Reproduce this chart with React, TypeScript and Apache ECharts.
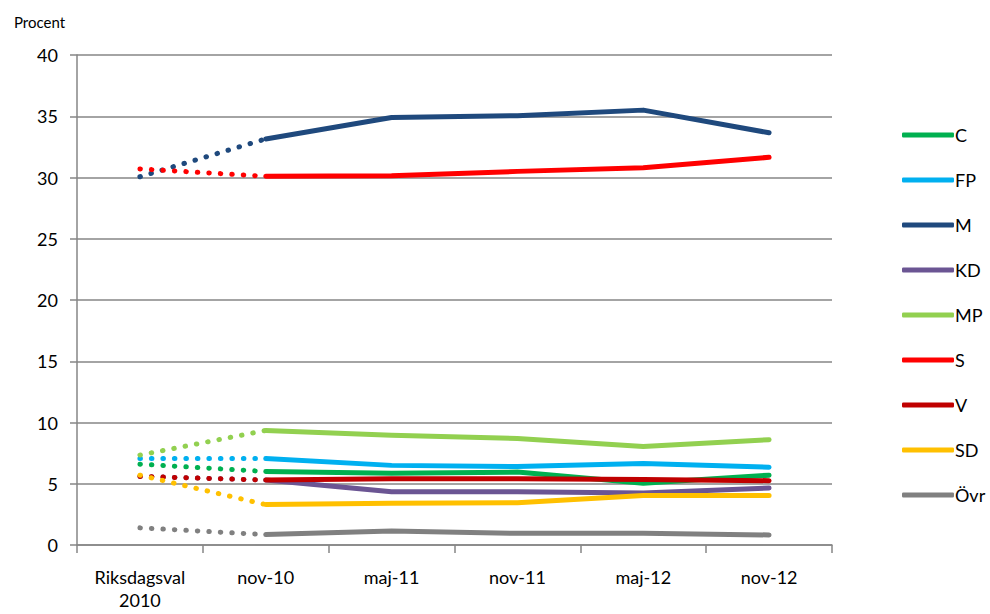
import React, { useEffect, useRef } from "react";
import * as echarts from "echarts";

const categories = ["Riksdagsval\n2010", "nov-10", "maj-11", "nov-11", "maj-12", "nov-12"];
const parties = ["C", "FP", "M", "KD", "MP", "S", "V", "SD", "Övr"];
const colors = ["#00B050", "#00B0F0", "#1F497D", "#6B5593", "#92D050", "#FF0000", "#C00000", "#FFC000", "#808080"];

const C = [6.6, 6.0, 5.85, 5.95, 5.05, 5.7];
const FP = [7.06, 7.06, 6.5, 6.4, 6.65, 6.35];
const M = [30.06, 33.15, 34.9, 35.05, 35.5, 33.65];
const KD = [5.6, 5.3, 4.35, 4.35, 4.25, 4.65];
const MP = [7.34, 9.35, 8.95, 8.7, 8.05, 8.6];
const S = [30.7, 30.1, 30.15, 30.5, 30.8, 31.65];
const V = [5.6, 5.3, 5.4, 5.4, 5.35, 5.25];
const SD = [5.7, 3.3, 3.4, 3.45, 4.05, 4.05];
const Ovr = [1.4, 0.85, 1.15, 0.95, 0.95, 0.82];

const values = [C, FP, M, KD, MP, S, V, SD, Ovr];
const yTicks = { min: 0, max: 40, interval: 5 };
const yTitle = "Procent";

const FONT = "Lato, 'Open Sans', sans-serif";

export default function App() {
  const ref = useRef<HTMLDivElement>(null);
  useEffect(() => {
    const chart = echarts.init(ref.current!, null, { renderer: "svg" });
    const dotted = parties.map((p, i) => ({
      name: p + "_val",
      type: "line",
      symbol: "none",
      silent: true,
      data: values[i].map((v, j) => (j <= 1 ? v : null)),
      lineStyle: { color: colors[i], width: 5, type: [0.5, 11], cap: "round" },
      itemStyle: { color: colors[i] },
    }));
    const solid = parties.map((p, i) => ({
      name: p,
      type: "line",
      symbol: "none",
      data: values[i].map((v, j) => (j >= 1 ? v : null)),
      lineStyle: { color: colors[i], width: 5, cap: "round", join: "round" },
      itemStyle: { color: colors[i] },
    }));
    chart.setOption({
      animation: false,
      grid: { left: 77, right: 158, top: 55, bottom: 69, containLabel: false, outerBoundsMode: "none" },
      title: {
        text: yTitle,
        left: 9,
        top: 9,
        textStyle: { fontFamily: FONT, fontSize: 15, fontWeight: "normal", color: "#000" },
      },
      legend: {
        orient: "vertical",
        left: 897,
        top: 119,
        icon: "roundRect",
        itemWidth: 52,
        itemHeight: 5,
        itemGap: 23,
        data: parties,
        textStyle: { fontFamily: FONT, fontSize: 18, color: "#000", padding: [0, 0, 0, -4], lineHeight: 22, height: 22 },
      },
      xAxis: {
        type: "category",
        data: categories,
        boundaryGap: true,
        axisLine: { lineStyle: { color: "#868686", width: 1.5 } },
        axisTick: { show: true, length: 8, lineStyle: { color: "#868686", width: 1.5 } },
        axisLabel: { fontFamily: FONT, fontSize: 18, color: "#000", margin: 20, lineHeight: 23, interval: 0 },
        splitLine: { show: false },
      },
      yAxis: {
        type: "value",
        min: yTicks.min,
        max: yTicks.max,
        interval: yTicks.interval,
        axisLine: { show: true, lineStyle: { color: "#868686", width: 1.5 } },
        axisTick: { show: true, length: 7, lineStyle: { color: "#868686", width: 1.5 } },
        axisLabel: { fontFamily: FONT, fontSize: 18, color: "#000", margin: 19 },
        splitLine: { show: true, lineStyle: { color: "#868686", width: 1.5 } },
      },
      series: [...dotted, ...solid],
    });
    return () => chart.dispose();
  }, []);
  return <div ref={ref} style={{ width: 990, height: 614, position: "absolute", left: 0, top: 0, background: "#fff" }} />;
}
